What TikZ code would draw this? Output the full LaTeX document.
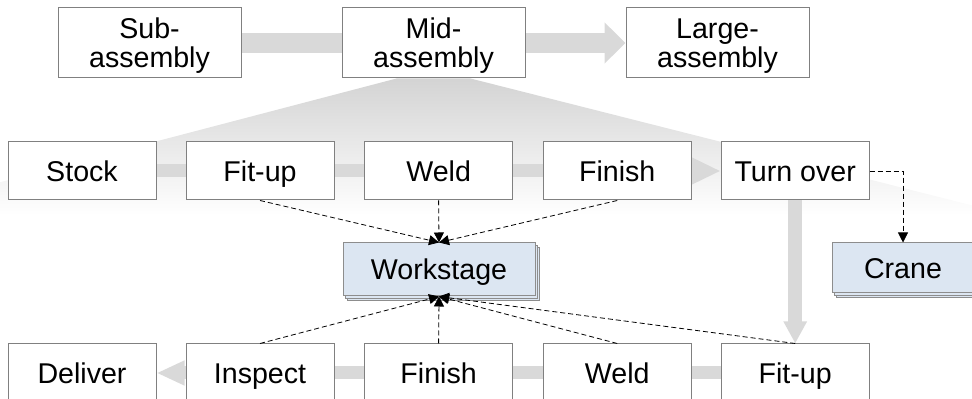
\documentclass[tikz,border=0pt]{standalone}
\usepackage{fontspec}
\setmainfont{Liberation Sans}
\usetikzlibrary{positioning,arrows.meta,shadows,backgrounds}
\definecolor{flowgray}{HTML}{D9D9D9}
\definecolor{stageblue}{HTML}{DCE6F2}
\definecolor{boxline}{HTML}{808080}

\begin{document}
\begin{tikzpicture}
[
   x=0.5pt, y=-0.5pt,
   align=center,
   font=\fontsize{14.3}{14.5}\selectfont
]

\tikzset{level/.style = {shape=rectangle, draw=boxline, fill=white, line width=0.5pt, minimum width=91.5pt, minimum height=35pt, inner sep=0pt, text depth=0pt}}
\tikzset{task/.style = {level, minimum width=74pt, minimum height=29pt, text height=12pt, text depth=1.5pt}}
\tikzset{resource/.style = {task, fill=stageblue, draw=boxline!90, double copy shadow={shadow xshift=1.1pt, shadow yshift=-1.1pt}}}
\tikzset{flow/.style = {draw=flowgray, line width=6.5pt, -{Triangle[length=14.5pt, width=12.5pt]}}}
\tikzset{link/.style = {-{Triangle[length=5pt, width=5pt]}, dash pattern=on 2.5pt off 1.5pt, line width=0.4pt}}

\useasboundingbox (0,0) rectangle (972,399);

% nodes
\node[level] (sub) at (149.5,43) {Sub-\\assembly};
\node[level] (mid) [right =50pt of sub] {Mid-\\assembly};
\node[level] (large) [right =50pt of mid] {Large-\\assembly};

\node[task] (stock) at (82,171) {Stock};
\node[task] (fitA) [right =14.5pt of stock] {Fit-up};
\node[task] (weldA) [right =14.8pt of fitA] {Weld};
\node[task] (finishA) [right =14.8pt of weldA] {Finish};
\node[task] (turn) [right =14.5pt of finishA] {Turn over};

\node[task] (deliver) at (82,373) {Deliver};
\node[task] (inspect) [right =14.5pt of deliver] {Inspect};
\node[task] (finishB) [right =14.8pt of inspect] {Finish};
\node[task] (weldB) [right =14.8pt of finishB] {Weld};
\node[task] (fitB) [right =14.5pt of weldB] {Fit-up};

\node[resource, minimum width=96pt, minimum height=26.5pt] (stage) at (439,269.5) {Workstage};
\node[resource, minimum width=71pt, minimum height=25pt] (crane) at (903,268) {Crane};

% flows
\begin{scope}[on background layer]
\shade[top color=black!17, bottom color=white]
   ([xshift=-18.5pt]mid.south) -- ([xshift=18.5pt]mid.south) -- (1010,215) -- (-125,215) -- cycle;
\draw[flow, line width=10pt, -{Triangle[length=10.5pt, width=20pt]}] (sub.east) -- (large.west);
\draw[flow] (stock.east) -- (turn.west);
\draw[flow, line width=7pt, -{Triangle[length=11pt, width=11pt]}] (turn.south) -- (fitB.north);
\draw[flow, -{Triangle[length=14pt, width=11.5pt]}] (fitB.west) -- (deliver.east);
\end{scope}

% arcs
\path[link]
   (fitA.south) edge (stage.north)
   (weldA.south) edge (stage.north)
   (finishA.south) edge (stage.north)
   (inspect.north) edge (stage.south)
   (finishB.north) edge (stage.south)
   (weldB.north) edge (stage.south)
   (fitB.north) edge (stage.south)
;
\draw[link] (turn.east) -| (crane.north);
\end{tikzpicture}
\end{document}
